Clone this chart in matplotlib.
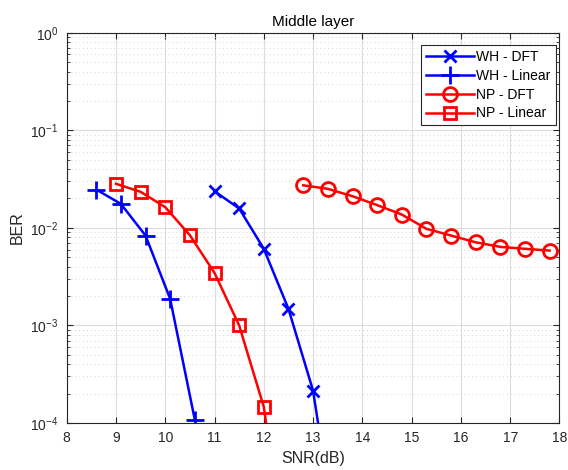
import numpy as np
import matplotlib
matplotlib.use("Agg")
import matplotlib.pyplot as plt
from matplotlib.ticker import LogLocator, NullFormatter

plt.rcParams['font.family'] = ['Liberation Sans', 'DejaVu Sans']
plt.rcParams['mathtext.default'] = 'regular'

# WH - DFT (blue x)
wh_dft_snr = [11.0, 11.5, 12.0, 12.5, 13.0, 13.5]
wh_dft_ber = [0.0237, 0.0158, 0.0061, 0.00148, 0.000214, 0.0000049]

# WH - Linear (blue +)
wh_lin_snr = [8.6, 9.1, 9.6, 10.1, 10.6]
wh_lin_ber = [0.0247, 0.0176, 0.00834, 0.00187, 0.000108]

# NP - DFT (red o)
np_dft_snr = [12.8, 13.3, 13.8, 14.3, 14.8, 15.3, 15.8, 16.3, 16.8, 17.3, 17.8]
np_dft_ber = [0.0273, 0.0251, 0.0211, 0.0171, 0.0137, 0.00977, 0.00834,
              0.00711, 0.00638, 0.0061, 0.00585]

# NP - Linear (red square)
np_lin_snr = [9.0, 9.5, 10.0, 10.5, 11.0, 11.5, 12.0, 12.5]
np_lin_ber = [0.0283, 0.0234, 0.0163, 0.0084, 0.00345, 0.0010, 0.000146, 0.0000025]

xticks = list(range(8, 19))

fig = plt.figure(figsize=(5.68, 4.70), dpi=100)
ax = fig.add_axes([0.1174, 0.1, 0.8676, 0.8304])

lw = 1.8
ax.semilogy(wh_dft_snr, wh_dft_ber, color='#0000FF', marker='x', ms=9, mew=2,
            lw=lw, label='WH - DFT')
ax.semilogy(wh_lin_snr, wh_lin_ber, color='#0000FF', marker='+', ms=13, mew=2,
            lw=lw, label='WH - Linear')
ax.semilogy(np_dft_snr, np_dft_ber, color='#FF0000', marker='o', ms=10, mew=2,
            mfc='none', lw=lw, label='NP - DFT')
ax.semilogy(np_lin_snr, np_lin_ber, color='#FF0000', marker='s', ms=8, mew=2,
            mfc='none', lw=lw, label='NP - Linear')

ax.set_xlim(8, 18)
ax.set_ylim(1e-4, 1)
ax.set_xticks(xticks)
ax.yaxis.set_major_locator(LogLocator(base=10, numticks=10))
ax.yaxis.set_minor_locator(LogLocator(base=10, subs=np.arange(2, 10), numticks=10))
ax.yaxis.set_minor_formatter(NullFormatter())

gray = '#262626'
for s in ax.spines.values():
    s.set_color(gray)
    s.set_linewidth(0.8)
ax.tick_params(which='both', direction='in', top=True, right=True,
               colors=gray, labelsize=10, labelcolor=gray)
ax.tick_params(which='major', length=4, pad=6)
ax.tick_params(which='minor', length=2.5)

ax.grid(True, which='major', color='#dcdcdc', lw=0.8, ls='-')
ax.grid(True, which='minor', axis='y', color='#d4d4d4', lw=0.7, ls=(0, (1, 3)))
ax.set_axisbelow(True)

ax.set_xlabel('SNR(dB)', fontsize=11.5, color=gray, labelpad=4)
ax.set_ylabel('BER', fontsize=11.5, color=gray, labelpad=4)
ax.set_title('Middle layer', fontsize=11, color='black', pad=5)

leg = ax.legend(loc='upper right', bbox_to_anchor=(0.992, 0.9685),
                fontsize=10, fancybox=False, framealpha=1,
                edgecolor=gray, handlelength=3.4, handletextpad=0.2,
                borderpad=0.35, labelspacing=0.35, borderaxespad=0)
leg.get_frame().set_linewidth(0.8)

fig.savefig('out.png', dpi=100)
